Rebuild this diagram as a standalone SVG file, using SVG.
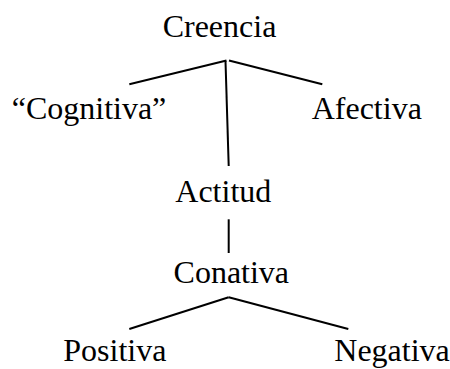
<svg xmlns="http://www.w3.org/2000/svg" width="450" height="369" viewBox="0 0 450 369">
<style>
text{font-family:"Liberation Serif","Times New Roman",serif;font-size:32px;fill:#000}
.c line{stroke:#000;stroke-width:2;stroke-linecap:butt}
</style>
<rect width="450" height="369" fill="#fff"/>
<g class="c" id="connectors">
<line x1="226.5" y1="60.5" x2="129.3" y2="84.3"/>
<line x1="229" y1="60.5" x2="322.3" y2="84.3"/>
<line x1="225.5" y1="61" x2="228.7" y2="166"/>
<line x1="228.7" y1="219.3" x2="228.7" y2="253"/>
<line x1="228.7" y1="297.3" x2="129.3" y2="329"/>
<line x1="228.7" y1="297.3" x2="348.3" y2="329"/>
</g>
<g id="creencia"><text x="219.5" y="37" text-anchor="middle">Creencia</text></g>
<g id="cognitiva"><text x="11.7" y="119.3">“Cognitiva”</text></g>
<g id="afectiva"><text x="311.7" y="119.3">Afectiva</text></g>
<g id="actitud"><text x="223.3" y="201.7" text-anchor="middle">Actitud</text></g>
<g id="conativa"><text x="231.3" y="283.3" text-anchor="middle">Conativa</text></g>
<g id="positiva"><text x="63.3" y="361">Positiva</text></g>
<g id="negativa"><text x="334.3" y="361">Negativa</text></g>
</svg>
